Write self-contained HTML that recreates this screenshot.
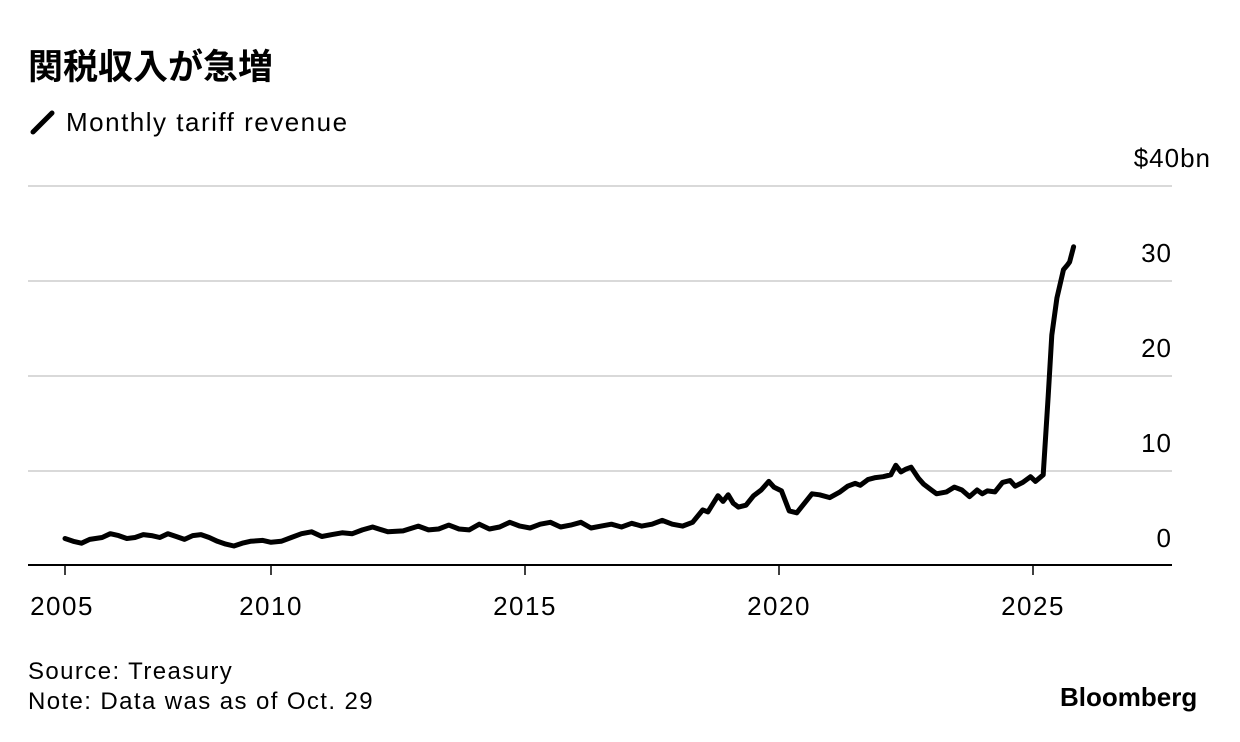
<!DOCTYPE html>
<html><head><meta charset="utf-8"><style>
body{margin:0;background:#fff;width:1240px;height:742px;overflow:hidden;font-family:"Liberation Sans","Noto Sans CJK JP",sans-serif;color:#000}
.t{position:absolute;white-space:nowrap}
</style></head><body>
<div class="t" style="left:28px;top:39px;font-size:35px;font-weight:bold;font-family:'Liberation Sans','Noto Sans CJK JP',sans-serif">関税収入が急増</div>
<div>
<svg class="t" style="left:30px;top:110px" width="26" height="26"><line x1="3" y1="22" x2="22" y2="3" stroke="#000" stroke-width="5" stroke-linecap="round"/></svg>
<div class="t" style="left:66px;top:107px;font-size:26px;letter-spacing:1.5px">Monthly tariff revenue</div>
</div>
<svg id="c" width="1240" height="742" style="position:absolute;left:0;top:0"></svg>
<div class="t" style="left:28px;top:657px;font-size:24px;line-height:30px;letter-spacing:1.4px">Source: Treasury<br>Note: Data was as of Oct. 29</div>
<div class="t" style="left:1060px;top:682px;font-size:26px;font-weight:bold;letter-spacing:0px">Bloomberg</div>
<script>
const yTicks=[0,10,20,30,40];
const xTicks=[2005,2010,2015,2020,2025];
const years=[
2005.0,2005.2,2005.4,2005.6,2005.9,
2006.1,2006.3,2006.5,2006.7,2006.9,
2007.1,2007.3,2007.5,2007.7,2007.9,
2008.1,2008.3,2008.5,2008.7,2008.9,
2009.1,2009.3,2009.5,2009.8,
2010.0,2010.2,2010.4,2010.6,2010.8,
2011.0,2011.2,2011.4,2011.6,2011.8,
2012.0,2012.3,2012.6,2012.9,
2013.1,2013.3,2013.5,2013.7,2013.9,
2014.1,2014.3,2014.5,2014.7,2014.9,
2015.1,2015.3,2015.5,2015.7,2015.9,
2016.1,2016.3,2016.5,2016.7,2016.9,
2017.1,2017.3,2017.5,2017.7,2017.9,
2018.1,2018.3,2018.5,2018.6,2018.8,2018.9,
2019.0,2019.1,2019.2,2019.35,2019.5,2019.65,2019.8,2019.9,
2020.05,2020.2,2020.35,2020.5,2020.65,2020.8,
2021.0,2021.2,2021.35,2021.5,2021.6,2021.75,2021.9,
2022.05,2022.2,2022.3,2022.4,2022.5,2022.6,2022.75,2022.85,
2023.0,2023.1,2023.3,2023.45,2023.6,2023.75,2023.9,
2024.0,2024.1,2024.25,2024.4,2024.55,2024.65,2024.8,2024.95,
2025.05,2025.2,2025.3,2025.37,2025.47,2025.6,2025.68,2025.72,2025.8];
const values=[
2.9,2.6,2.4,2.8,3.0,
3.4,3.2,2.9,3.0,3.3,
3.2,3.0,3.4,3.1,2.8,
3.2,3.3,3.0,2.6,2.3,
2.1,2.4,2.6,2.7,
2.5,2.6,3.0,3.4,3.6,
3.1,3.3,3.5,3.4,3.8,
4.1,3.6,3.7,4.2,
3.8,3.9,4.3,3.9,3.8,
4.4,3.9,4.1,4.6,4.2,
4.0,4.4,4.6,4.1,4.3,
4.6,4.0,4.2,4.4,4.1,
4.5,4.2,4.4,4.8,4.4,
4.2,4.6,5.9,5.7,7.4,6.8,
7.5,6.6,6.2,6.4,7.4,8.0,8.9,8.3,
7.9,5.8,5.6,6.6,7.6,7.5,
7.2,7.8,8.4,8.7,8.5,9.1,9.3,
9.4,9.6,10.6,9.9,10.2,10.4,9.2,8.6,
8.0,7.6,7.8,8.3,8.0,7.3,8.0,
7.6,7.9,7.8,8.8,9.0,8.4,8.8,9.4,
8.9,9.6,17.9,24.3,28.2,31.2,31.7,32.0,33.6];
const NS='http://www.w3.org/2000/svg';
const svg=document.getElementById('c');
const L=28,R=1172,Y0=566,PX=9.5;
const tx=[65,271,526,780,1033];
function xs(yr){
  if(yr<=2010) return tx[0]+(yr-2005)/5*(tx[1]-tx[0]);
  return tx[1]+(yr-2010)*(tx[4]-tx[1])/15;
}
function ys(v){return Y0-v*PX;}
function mk(tag,attrs){const e=document.createElementNS(NS,tag);for(const k in attrs)e.setAttribute(k,attrs[k]);svg.appendChild(e);return e;}
yTicks.forEach(t=>{
  if(t>0){const g=mk('line',{x1:L,x2:R,y1:ys(t),y2:ys(t),stroke:'#d9d9d9','stroke-width':2});
  
  }
  const lb=mk('text',{x:1172,y:ys(t)-19,'text-anchor':'end','font-size':26,'letter-spacing':1,'font-family':'Liberation Sans, sans-serif'});
  lb.textContent=t===40?'$40bn':String(t);
  if(t===40){lb.setAttribute('x',1211);}
  
  
});
const ax=mk('line',{x1:L,x2:R,y1:Y0-1,y2:Y0-1,stroke:'#000','stroke-width':2});


xTicks.forEach(t=>{
  const tk=mk('line',{x1:xs(t),x2:xs(t),y1:Y0,y2:Y0+9,stroke:'#000','stroke-width':1.5});
  
  
  const lb=mk('text',{x:xs(t)-(t===2005?3:0),y:615,'text-anchor':'middle','font-size':26,'letter-spacing':1.5,'font-family':'Liberation Sans, sans-serif'});
  lb.textContent=t;
  
  
});
const d=years.map((y,i)=>(i?'L':'M')+xs(y).toFixed(1)+','+ys(values[i]).toFixed(1)).join('');
const p=mk('path',{d:d,fill:'none',stroke:'#000','stroke-width':5,'stroke-linejoin':'round','stroke-linecap':'round'});


</script>
</body></html>
